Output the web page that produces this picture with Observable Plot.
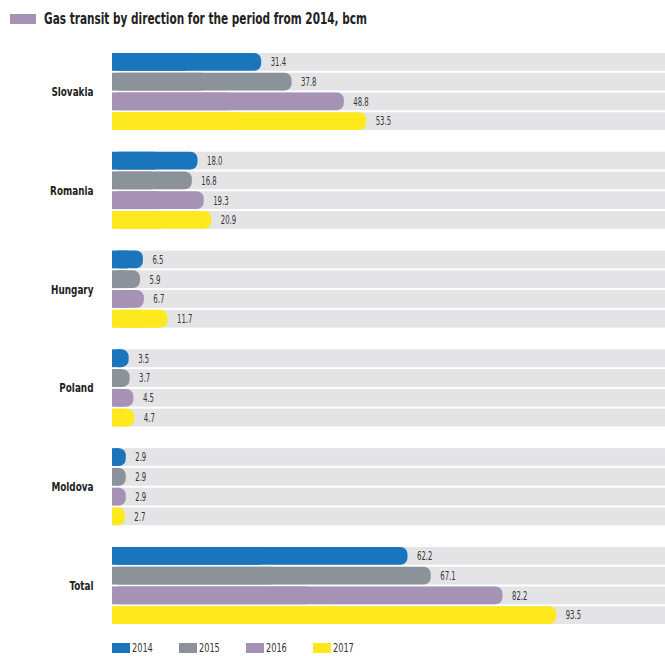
<!DOCTYPE html>
<html>
<head>
<meta charset="utf-8">
<script src="https://cdn.jsdelivr.net/npm/d3@7"></script>
<script src="https://cdn.jsdelivr.net/npm/@observablehq/plot@0.6"></script>
<style>
  body { margin: 0; background: #fff; width: 665px; height: 656px; overflow: hidden; font-family: "DejaVu Sans Condensed", "Roboto", sans-serif; }
  #title { position: relative; height: 40px; }
  #title .sw { position: absolute; left: 10px; top: 14px; width: 26px; height: 10px; background: #a592b5; }
  #title .tx { position: absolute; left: 44px; top: 10px; font-size: 15px; font-weight: bold; color: #222; white-space: nowrap; transform-origin: 0 0; }
  #chart svg { display: block; }
  #legend { position: relative; height: 12px; margin-top: 12px; }
  #legend .item { position: absolute; top: 0; display: flex; align-items: center; font-size: 13px; color: #333; height: 12px; }
  #legend .item span.s { display: inline-block; width: 18px; height: 10px; margin-right: 2px; }
  #legend .item span.t { display: inline-block; transform: scaleX(0.7); transform-origin: 0 50%; line-height: 12px; }
</style>
</head>
<body>
<div id="title"><div class="sw"></div><div class="tx">Gas transit by direction for the period from 2014, bcm</div></div>
<div id="chart"></div>
<div id="legend"></div>
<script>
const countries = ["Slovakia", "Romania", "Hungary", "Poland", "Moldova", "Total"];
const years = ["2014", "2015", "2016", "2017"];
const v2014 = [31.4, 18.0, 6.5, 3.5, 2.9, 62.2];
const v2015 = [37.8, 16.8, 5.9, 3.7, 2.9, 67.1];
const v2016 = [48.8, 19.3, 6.7, 4.5, 2.9, 82.2];
const v2017 = [53.5, 20.9, 11.7, 4.7, 2.7, 93.5];
const colors = ["#1a75bc", "#8b9299", "#a592b5", "#fde91d"];
const xMax = 116.4;

const series = [v2014, v2015, v2016, v2017];
const data = [];
countries.forEach((c, i) => years.forEach((y, j) => data.push({country: c, year: y, key: c + "|" + y, value: series[j][i]})));

// band domain: 4 bars per country plus an empty spacer band between groups
const yDomain = [];
countries.forEach((c, i) => {
  years.forEach(y => yDomain.push(c + "|" + y));
  if (i < countries.length - 1) yDomain.push(c + "|gap");
});

const font = '"DejaVu Sans Condensed", "Roboto", sans-serif';

const chart = Plot.plot({
  width: 665,
  height: 590,
  marginLeft: 112,
  marginRight: 0,
  marginTop: 11,
  marginBottom: 4,
  style: {fontFamily: font, background: "#fff"},
  x: {domain: [0, xMax], axis: null},
  y: {domain: yDomain, axis: null, padding: 0.1, round: false},
  color: {domain: years, range: colors},
  marks: [
    Plot.barX(data, {x1: 0, x2: xMax, y: "key", fill: "#e4e4e6"}),
    Plot.barX(data, {x1: 0, x2: "value", y: "key", fill: "year", rx: 7}),
    Plot.barX(data, {x1: 0, x2: d => d.value / 2, y: "key", fill: "year"}),
    Plot.text(data, {x: "value", y: "key", text: d => d.value.toFixed(1), dx: 9, textAnchor: "start", fontSize: 12, fill: "#333"}),
    Plot.text(countries, {y: d => d + "|2015", text: d => d, frameAnchor: "left", dx: -19, dy: 10, textAnchor: "end", fontSize: 12, fontWeight: "bold", fill: "#222"})
  ]
});
document.getElementById("chart").appendChild(chart);

// condense the text glyphs (no narrow font installed)
const textGroups = chart.querySelectorAll('g[aria-label="text"]');
textGroups.forEach((g, k) => {
  const s = k === 0 ? 0.64 : 0.82;
  g.querySelectorAll("text").forEach(t => {
    const tr = t.getAttribute("transform") || "";
    t.setAttribute("transform", tr + ` scale(${s},1)`);
  });
});

const tx = document.querySelector("#title .tx");
const w = tx.getBoundingClientRect().width;
tx.style.transform = `scaleX(${323 / w})`;

const legend = document.getElementById("legend");
years.forEach((y, i) => {
  const it = document.createElement("div");
  it.className = "item";
  it.style.left = (112 + i * 67) + "px";
  it.innerHTML = `<span class="s" style="background:${colors[i]}"></span><span class="t">${y}</span>`;
  legend.appendChild(it);
});
</script>
</body>
</html>
